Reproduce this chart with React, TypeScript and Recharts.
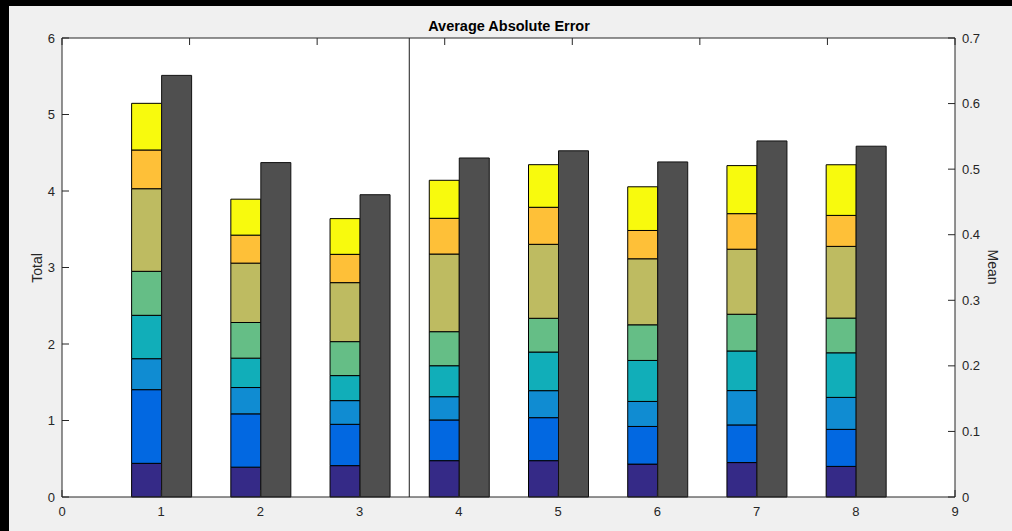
import React from "react";
import { Bar, BarChart, CartesianGrid, ReferenceLine, XAxis, YAxis } from "recharts";

// per-run error, stacked by component; mean shown on its own axis
const runs = [1, 2, 3, 4, 5, 6, 7, 8];
const purple = [0.44, 0.39, 0.41, 0.475, 0.475, 0.43, 0.45, 0.4];
const blue = [0.963, 0.697, 0.54, 0.532, 0.562, 0.492, 0.492, 0.484];
const lightBlue = [0.405, 0.344, 0.31, 0.304, 0.353, 0.327, 0.449, 0.418];
const teal = [0.567, 0.384, 0.327, 0.405, 0.505, 0.536, 0.518, 0.583];
const green = [0.575, 0.466, 0.444, 0.445, 0.441, 0.466, 0.48, 0.454];
const olive = [1.08, 0.776, 0.771, 1.015, 0.967, 0.863, 0.85, 0.937];
const orange = [0.506, 0.366, 0.37, 0.467, 0.484, 0.37, 0.465, 0.405];
const yellow = [0.61, 0.47, 0.467, 0.497, 0.557, 0.571, 0.628, 0.662];
const mean = [0.643, 0.51, 0.461, 0.517, 0.528, 0.511, 0.543, 0.535];

const xTicks = [0, 1, 2, 3, 4, 5, 6, 7, 8, 9];
const totalTicks = [0, 1, 2, 3, 4, 5, 6];
const meanTicks = [0, 0.1, 0.2, 0.3, 0.4, 0.5, 0.6, 0.7];

const stackKeys = [
  { key: "purple", color: "#352a87", values: purple },
  { key: "blue", color: "#0268e1", values: blue },
  { key: "lightBlue", color: "#108cd2", values: lightBlue },
  { key: "teal", color: "#11aeb9", values: teal },
  { key: "green", color: "#65be86", values: green },
  { key: "olive", color: "#bebb61", values: olive },
  { key: "orange", color: "#fec038", values: orange },
  { key: "yellow", color: "#f8fa0d", values: yellow },
];

const data = runs.map((x, i) => {
  const row: Record<string, number> = { x, mean: mean[i] };
  stackKeys.forEach((s) => (row[s.key] = s.values[i]));
  return row;
});

const AXIS = "#262626";
const FONT = "'Liberation Sans', Arial, sans-serif";
const TICK_LEN = 7;
const TICK_FONT = 13;

// MATLAB-style inward ticks: tick props arrive at the axis line position
const BottomTick = ({ x, y, payload }: any) => (
  <g>
    <line x1={x} x2={x} y1={y} y2={y - TICK_LEN} stroke={AXIS} />
    <text x={x} y={y + 19} textAnchor="middle" fill={AXIS} fontSize={TICK_FONT} fontFamily={FONT}>
      {payload.value}
    </text>
  </g>
);

const TopTick = ({ x, y }: any) => <line x1={x} x2={x} y1={y} y2={y + TICK_LEN} stroke={AXIS} />;

const LeftTick = ({ x, y, payload }: any) => (
  <g>
    <line x1={x} x2={x + TICK_LEN} y1={y} y2={y} stroke={AXIS} />
    <text x={x - 7} y={y + 4.5} textAnchor="end" fill={AXIS} fontSize={TICK_FONT} fontFamily={FONT}>
      {payload.value}
    </text>
  </g>
);

const RightTick = ({ x, y, payload }: any) => (
  <g>
    <line x1={x} x2={x - TICK_LEN} y1={y} y2={y} stroke={AXIS} />
    <text x={x + 7} y={y + 4.5} textAnchor="start" fill={AXIS} fontSize={TICK_FONT} fontFamily={FONT}>
      {payload.value}
    </text>
  </g>
);

export default function App() {
  return (
    <div style={{ position: "fixed", left: 0, top: 0, width: 1012, height: 531, background: "#000", fontFamily: FONT }}>
      <div style={{ position: "absolute", left: 9, top: 6, right: 0, bottom: 0, background: "#f0f0f0" }} />
      <div style={{ position: "absolute", left: 0, top: 0 }}>
        <BarChart
          width={1012}
          height={531}
          data={data}
          margin={{ top: 30, right: 7, bottom: 4, left: 12 }}
          barGap={0}
        >
          <CartesianGrid horizontal={false} vertical={false} fill="#ffffff" stroke="none" />
          <XAxis
            dataKey="x"
            type="number"
            domain={[0, 9]}
            ticks={xTicks}
            interval={0}
            height={30}
            tickSize={0}
            tickMargin={0}
            tickLine={false}
            axisLine={{ stroke: AXIS }}
            tick={<BottomTick />}
          />
          <XAxis
            xAxisId="top"
            orientation="top"
            type="number"
            domain={[0, 9]}
            ticks={xTicks}
            interval={0}
            height={8}
            tickSize={0}
            tickMargin={0}
            tickLine={false}
            axisLine={{ stroke: AXIS }}
            tick={<TopTick />}
          />
          <YAxis
            domain={[0, 6]}
            ticks={totalTicks}
            interval={0}
            width={50}
            tickSize={0}
            tickMargin={0}
            tickLine={false}
            axisLine={{ stroke: AXIS }}
            tick={<LeftTick />}
          />
          <YAxis
            yAxisId="mean"
            orientation="right"
            domain={[0, 0.7]}
            ticks={meanTicks}
            interval={0}
            width={50}
            tickSize={0}
            tickMargin={0}
            tickLine={false}
            axisLine={{ stroke: AXIS }}
            tick={<RightTick />}
          />
          {stackKeys.map((s) => (
            <Bar
              key={s.key}
              dataKey={s.key}
              stackId="total"
              fill={s.color}
              stroke="#000"
              strokeWidth={1}
              barSize={30}
              isAnimationActive={false}
            />
          ))}
          <Bar
            dataKey="mean"
            yAxisId="mean"
            fill="#4f4f4f"
            stroke="#111"
            strokeWidth={1}
            barSize={30}
            isAnimationActive={false}
          />
          <ReferenceLine x={3.5} stroke="#1a1a1a" strokeWidth={1} />
        </BarChart>
      </div>
      <div
        style={{
          position: "absolute",
          left: 309,
          width: 400,
          top: 17,
          textAlign: "center",
          fontSize: 14.5,
          fontWeight: "bold",
          color: "#000",
          lineHeight: "18px",
        }}
      >
        Average Absolute Error
      </div>
      <div
        style={{
          position: "absolute",
          left: 37,
          top: 268,
          transform: "translate(-50%, -50%) rotate(-90deg)",
          fontSize: 14,
          color: AXIS,
          whiteSpace: "nowrap",
        }}
      >
        Total
      </div>
      <div
        style={{
          position: "absolute",
          left: 993,
          top: 267,
          transform: "translate(-50%, -50%) rotate(90deg)",
          fontSize: 14,
          color: AXIS,
          whiteSpace: "nowrap",
        }}
      >
        Mean
      </div>
    </div>
  );
}
